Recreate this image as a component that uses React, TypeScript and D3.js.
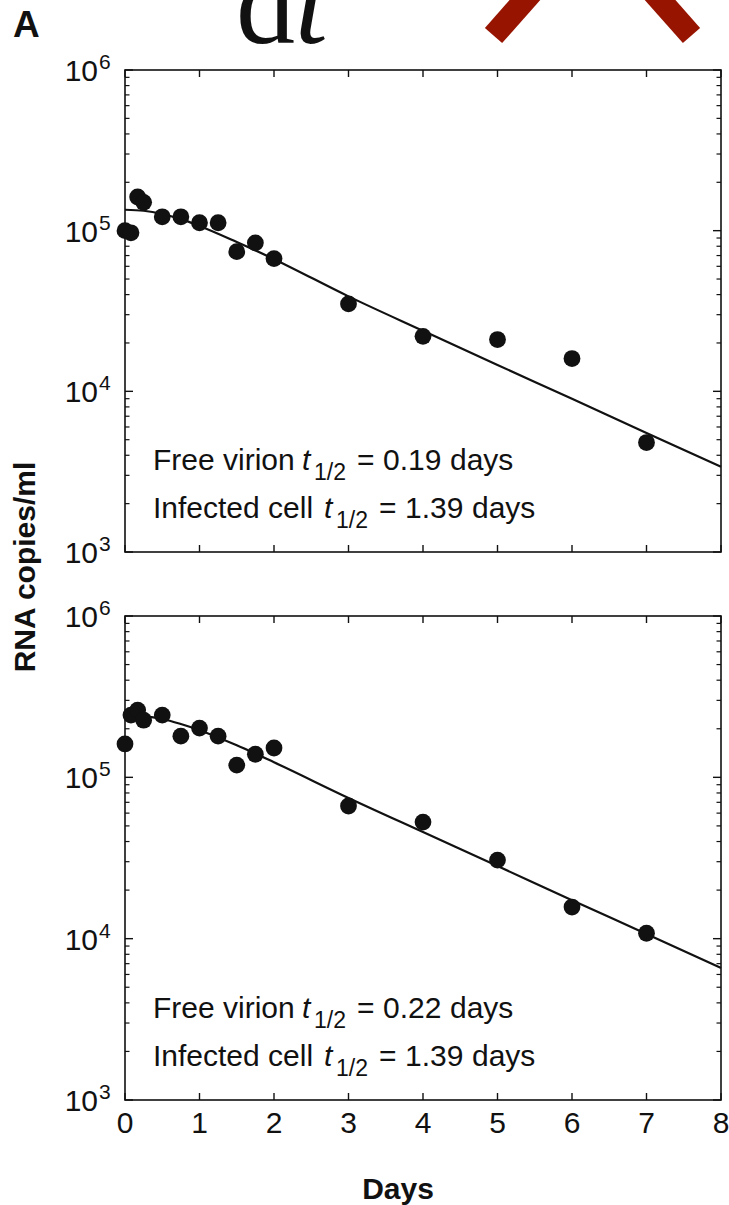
import React from "react";
import * as d3 from "d3";

// ---- data ----
const days = [0, 0.08, 0.17, 0.25, 0.5, 0.75, 1, 1.25, 1.5, 1.75, 2, 3, 4, 5, 6, 7];
const patientA1 = [1.0e5, 9.7e4, 1.62e5, 1.5e5, 1.22e5, 1.22e5, 1.12e5, 1.12e5, 7.4e4, 8.4e4, 6.7e4, 3.5e4, 2.2e4, 2.1e4, 1.6e4, 4.8e3];
const patientA2 = [1.61e5, 2.43e5, 2.61e5, 2.26e5, 2.43e5, 1.8e5, 2.02e5, 1.8e5, 1.19e5, 1.39e5, 1.52e5, 6.64e4, 5.28e4, 3.07e4, 1.57e4, 1.08e4];

const fitDays = [0, 0.25, 0.5, 0.75, 1, 1.5, 2, 3, 4, 5, 6, 7, 8];
const fitA1 = [1.35e5, 1.33e5, 1.27e5, 1.18e5, 1.07e5, 8.5e4, 6.65e4, 3.9e4, 2.38e4, 1.46e4, 8.98e3, 5.51e3, 3.39e3];
const fitA2 = [2.4e5, 2.39e5, 2.3e5, 2.14e5, 1.96e5, 1.58e5, 1.24e5, 7.45e4, 4.58e4, 2.82e4, 1.73e4, 1.07e4, 6.58e3];

const xTicks = [0, 1, 2, 3, 4, 5, 6, 7, 8];
const yMajor = [1e3, 1e4, 1e5, 1e6];
const yExponents = ["3", "4", "5", "6"];

const virionHalfLife = ["0.19", "0.22"];
const cellHalfLife = ["1.39", "1.39"];

const FONT = "'Liberation Sans', Arial, Helvetica, sans-serif";

const X0 = 125;
const X1 = 721;

const panels = [
  { top: 70, bottom: 552, pts: patientA1, fit: fitA1, virion: virionHalfLife[0], cell: cellHalfLife[0], xLabels: false },
  { top: 616, bottom: 1100, pts: patientA2, fit: fitA2, virion: virionHalfLife[1], cell: cellHalfLife[1], xLabels: true },
];

function minorTicks(): number[] {
  const out: number[] = [];
  for (let e = 3; e < 6; e++) {
    for (let m = 2; m <= 9; m++) out.push(m * Math.pow(10, e));
  }
  return out;
}

function HalfLife({ x0, y, label, value, off }: { x0: number; y: number; label: string; value: string; off: number }) {
  const b = x0 + off;
  return (
    <text y={y} fontSize={30} fontFamily={FONT} fill="#111">
      <tspan x={x0}>{label}</tspan>
      <tspan x={b + 149} fontStyle="italic">t</tspan>
      <tspan x={b + 161} dy={10} fontSize={23}>1/2</tspan>
      <tspan x={b + 204} dy={-10}>=</tspan>
      <tspan x={b + 230}>{value}</tspan>
      <tspan x={b + 297}>days</tspan>
    </text>
  );
}

function Panel({ p }: { p: (typeof panels)[number] }) {
  const x = d3.scaleLinear().domain([0, 8]).range([X0, X1]);
  const y = d3.scaleLog().domain([1e3, 1e6]).range([p.bottom, p.top]);
  const line = d3
    .line<number>()
    .x((_, i) => x(fitDays[i]))
    .y((v) => y(v))
    .curve(d3.curveMonotoneX);
  const minors = minorTicks();
  return (
    <g>
      <rect x={X0} y={p.top} width={X1 - X0} height={p.bottom - p.top} fill="none" stroke="#111" strokeWidth={1.6} />
      {yMajor.map((v) => (
        <g key={"M" + v}>
          <line x1={X0} x2={X0 + 8} y1={y(v)} y2={y(v)} stroke="#111" strokeWidth={1.4} />
          <line x1={X1} x2={X1 - 8} y1={y(v)} y2={y(v)} stroke="#111" strokeWidth={1.4} />
        </g>
      ))}
      {minors.map((v) => (
        <g key={"m" + v}>
          <line x1={X0} x2={X0 + 4.5} y1={y(v)} y2={y(v)} stroke="#111" strokeWidth={1.2} />
          <line x1={X1} x2={X1 - 4.5} y1={y(v)} y2={y(v)} stroke="#111" strokeWidth={1.2} />
        </g>
      ))}
      {xTicks.map((t) => (
        <g key={"x" + t}>
          <line x1={x(t)} x2={x(t)} y1={p.bottom} y2={p.bottom - 7} stroke="#111" strokeWidth={1.4} />
          <line x1={x(t)} x2={x(t)} y1={p.top} y2={p.top + 7} stroke="#111" strokeWidth={1.4} />
        </g>
      ))}
      {yMajor.map((v, i) => (
        <text key={"yl" + v} fontFamily={FONT} fill="#111">
          <tspan x={X0 - 27} y={y(v) + 11} fontSize={30} textAnchor="end">10</tspan>
          <tspan x={X0 - 26} y={y(v) - 1} fontSize={21}>{yExponents[i]}</tspan>
        </text>
      ))}
      {p.xLabels &&
        xTicks.map((t) => (
          <text key={"xl" + t} x={x(t)} y={p.bottom + 33} fontSize={30} fontFamily={FONT} textAnchor="middle" fill="#111">
            {t}
          </text>
        ))}
      <path d={line(p.fit) || ""} fill="none" stroke="#111" strokeWidth={2.2} />
      {p.pts.map((v, i) => (
        <circle key={"pt" + i} cx={x(days[i])} cy={y(v)} r={8.4} fill="#111" />
      ))}
      <HalfLife x0={153} y={p.bottom - 82} label="Free virion" value={p.virion} off={0} />
      <HalfLife x0={153} y={p.bottom - 34} label="Infected cell" value={p.cell} off={22} />
    </g>
  );
}

export default function App() {
  const dir = 1.13;
  const len = 120;
  const norm = Math.sqrt(1 + dir * dir);
  return (
    <svg
      width={729}
      height={1205}
      viewBox="0 0 729 1205"
      style={{ position: "absolute", left: 0, top: 0, background: "#fff" }}
    >
      <rect x={0} y={0} width={729} height={1205} fill="#fff" />
      <text x={236} y={43} fontSize={118} fontFamily="'Liberation Serif', 'DejaVu Serif', serif" fill="#111">
        d<tspan fontStyle="italic">t</tspan>
      </text>
      <line x1={493.5} y1={35.5} x2={493.5 + len / norm} y2={35.5 - (len * dir) / norm} stroke="#961400" strokeWidth={23} />
      <line x1={691.5} y1={35.5} x2={691.5 - len / norm} y2={35.5 - (len * dir) / norm} stroke="#961400" strokeWidth={23} />
      <text x={13} y={37} fontSize={37} fontWeight="bold" fontFamily={FONT} fill="#111">A</text>

      {panels.map((p, i) => (
        <Panel key={i} p={p} />
      ))}

      <text
        transform="translate(35,567) rotate(-90)"
        textAnchor="middle"
        fontSize={30}
        fontWeight="bold"
        fontFamily={FONT}
        fill="#111"
      >
        RNA copies/ml
      </text>
      <text x={398} y={1199} fontSize={30} fontWeight="bold" fontFamily={FONT} textAnchor="middle" fill="#111">
        Days
      </text>
    </svg>
  );
}
